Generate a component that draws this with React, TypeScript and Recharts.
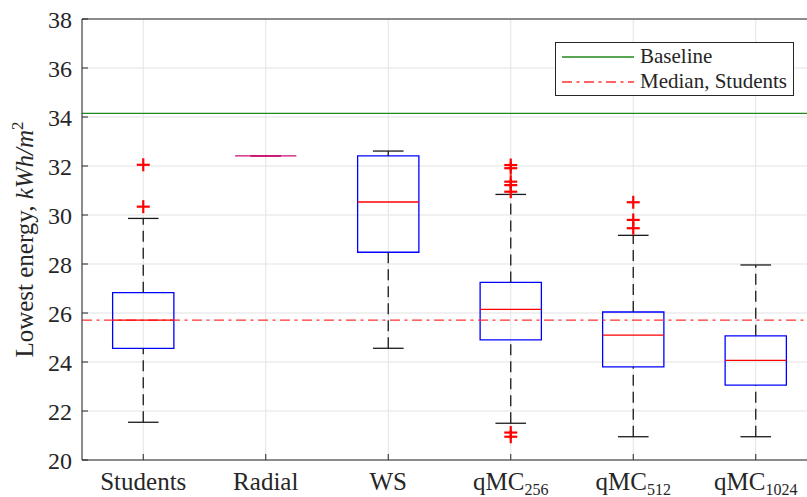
import React from 'react';
import {
  ComposedChart,
  XAxis,
  YAxis,
  CartesianGrid,
  ReferenceArea,
  ReferenceLine,
  Scatter,
  Legend,
} from 'recharts';

// categories (tick label + optional subscript)
const categories = ['Students', 'Radial', 'WS', 'qMC', 'qMC', 'qMC'];
const subscripts = ['', '', '', '256', '512', '1024'];

// box plot statistics per category
const whiskerLow = [21.54, 32.41, 24.56, 21.5, 20.95, 20.95];
const quartile1 = [24.56, 32.41, 28.48, 24.9, 23.8, 23.06];
const medians = [25.71, 32.41, 30.53, 26.15, 25.1, 24.07];
const quartile3 = [26.83, 32.41, 32.41, 27.25, 26.04, 25.07];
const whiskerHigh = [29.86, 32.41, 32.61, 30.84, 29.17, 27.96];

// outliers: category index + value
const outlierGroup = [0, 0, 3, 3, 3, 3, 3, 3, 3, 4, 4, 4];
const outlierValue = [32.05, 30.34, 32.04, 31.91, 31.36, 31.22, 30.95, 21.12, 20.95, 30.52, 29.8, 29.46];

const baselineValue = 34.15;
const yTicks = [20, 22, 24, 26, 28, 30, 32, 34, 36, 38];

const FONT = 'Liberation Serif, DejaVu Serif, serif';
const AXIS = '#262626';
const COLLAPSED = '#c8106e'; // red median drawn over a flat blue box
const BOX_HALF = 0.25;
const CAP_HALF = 0.125;

const positions = categories.map((_, i) => i + 1);
const outliers = outlierGroup.map((g, i) => ({ x: g + 1, y: outlierValue[i] }));
const isFlat = (i: number) => quartile1[i] === quartile3[i];

const PlusMarker = (props: any) => {
  const { cx, cy } = props;
  const s = 6.5;
  return (
    <g stroke="#ff0000" strokeWidth={2.2}>
      <line x1={cx - s} y1={cy} x2={cx + s} y2={cy} />
      <line x1={cx} y1={cy - s} x2={cx} y2={cy + s} />
    </g>
  );
};

const XTick = (props: any) => {
  const { x, y, payload } = props;
  const i = Math.round(payload.value) - 1;
  return (
    <text x={x} y={y} dy="0.71em" textAnchor="middle" style={{ fontFamily: FONT }} fontSize={25} fill={AXIS}>
      <tspan>{categories[i]}</tspan>
      {subscripts[i] ? (
        <tspan dy={5} fontSize={16}>
          {subscripts[i]}
        </tspan>
      ) : null}
    </text>
  );
};

const YLabel = (props: any) => {
  const { viewBox } = props;
  const cx = 33;
  const cy = viewBox.y + viewBox.height / 2;
  return (
    <text
      x={cx}
      y={cy}
      transform={`rotate(-90 ${cx} ${cy})`}
      textAnchor="middle"
      style={{ fontFamily: FONT }}
      fontSize={25}
      fill={AXIS}
    >
      <tspan>Lowest energy, </tspan>
      <tspan fontStyle="italic">kWh/m</tspan>
      <tspan dy={-10} fontSize={17}>
        2
      </tspan>
    </text>
  );
};

const LegendBox = () => (
  <div style={{ width: 239, height: 54, boxSizing: 'border-box', border: `1px solid ${AXIS}`, background: '#fff' }}>
    <svg width={237} height={52} style={{ display: 'block' }}>
      <line x1={6} y1={14} x2={78} y2={14} stroke="#1f8a1f" strokeWidth={1.3} />
      <text x={84} y={20} style={{ fontFamily: FONT }} fontSize={21} fill={AXIS}>
        Baseline
      </text>
      <line x1={6} y1={39} x2={78} y2={39} stroke="#ff3030" strokeWidth={1.3} strokeDasharray="10 4.5 3 4.5" />
      <text x={84} y={45} style={{ fontFamily: FONT }} fontSize={21} fill={AXIS}>
        Median, Students
      </text>
    </svg>
  </div>
);

export default function App() {
  return (
    <div style={{ position: 'absolute', left: 0, top: 0, width: 807, height: 497, overflow: 'hidden', background: '#fff', fontFamily: FONT }}>
      <ComposedChart width={820} height={497} margin={{ top: 0, right: 3, bottom: 0, left: 22 }}>
        <CartesianGrid stroke="#e3e3e3" strokeWidth={1} />
        <XAxis
          type="number"
          dataKey="x"
          domain={[0.5, 6.5]}
          ticks={positions}
          allowDataOverflow
          height={37}
          stroke={AXIS}
          tickSize={-6}
          tickMargin={18}
          tick={<XTick />}
          interval={0}
        />
        <XAxis
          xAxisId="top"
          orientation="top"
          type="number"
          dataKey="x"
          domain={[0.5, 6.5]}
          ticks={positions}
          allowDataOverflow
          height={19}
          stroke={AXIS}
          tickSize={-6}
          tick={false}
        />
        <YAxis
          type="number"
          dataKey="y"
          domain={[20, 38]}
          ticks={yTicks}
          allowDataOverflow
          width={60}
          stroke={AXIS}
          tickSize={-6}
          tickMargin={16}
          tick={{ style: { fontFamily: FONT }, fontSize: 24, fill: AXIS }}
          label={<YLabel />}
        />
        <ReferenceLine y={baselineValue} stroke="#1f8a1f" strokeWidth={1.3} />
        <ReferenceLine y={medians[0]} stroke="#ff3030" strokeWidth={1.3} strokeDasharray="10 4.5 3 4.5" />
        {positions.map((p, i) => (
          <ReferenceArea
            key={`b${i}`}
            x1={p - BOX_HALF}
            x2={p + BOX_HALF}
            y1={quartile1[i]}
            y2={quartile3[i]}
            fill="none"
            fillOpacity={0}
            stroke={isFlat(i) ? COLLAPSED : '#0000ff'}
            strokeWidth={1.3}
            strokeOpacity={1}
          />
        ))}
        {positions.map((p, i) => (
          <ReferenceLine
            key={`wu${i}`}
            segment={[{ x: p, y: quartile3[i] }, { x: p, y: whiskerHigh[i] }]}
            stroke="#1a1a1a"
            strokeWidth={1.3}
            strokeDasharray="11 6"
          />
        ))}
        {positions.map((p, i) => (
          <ReferenceLine
            key={`wl${i}`}
            segment={[{ x: p, y: whiskerLow[i] }, { x: p, y: quartile1[i] }]}
            stroke="#1a1a1a"
            strokeWidth={1.3}
            strokeDasharray="11 6"
          />
        ))}
        {positions.map((p, i) => (
          <ReferenceLine
            key={`ch${i}`}
            segment={[{ x: p - CAP_HALF, y: whiskerHigh[i] }, { x: p + CAP_HALF, y: whiskerHigh[i] }]}
            stroke={isFlat(i) ? COLLAPSED : '#1a1a1a'}
            strokeWidth={1.3}
          />
        ))}
        {positions.map((p, i) => (
          <ReferenceLine
            key={`cl${i}`}
            segment={[{ x: p - CAP_HALF, y: whiskerLow[i] }, { x: p + CAP_HALF, y: whiskerLow[i] }]}
            stroke={isFlat(i) ? COLLAPSED : '#1a1a1a'}
            strokeWidth={1.3}
          />
        ))}
        {positions.map((p, i) => (
          <ReferenceLine
            key={`m${i}`}
            segment={[{ x: p - BOX_HALF, y: medians[i] }, { x: p + BOX_HALF, y: medians[i] }]}
            stroke={isFlat(i) ? COLLAPSED : '#ff0000'}
            strokeWidth={1.3}
          />
        ))}
        <Scatter data={outliers} shape={<PlusMarker />} isAnimationActive={false} />
        <Legend
          layout="horizontal"
          verticalAlign="middle"
          align="center"
          content={<LegendBox />}
          wrapperStyle={{ position: 'absolute', left: 555, top: 42, width: 239, height: 54 }}
        />
      </ComposedChart>
    </div>
  );
}
